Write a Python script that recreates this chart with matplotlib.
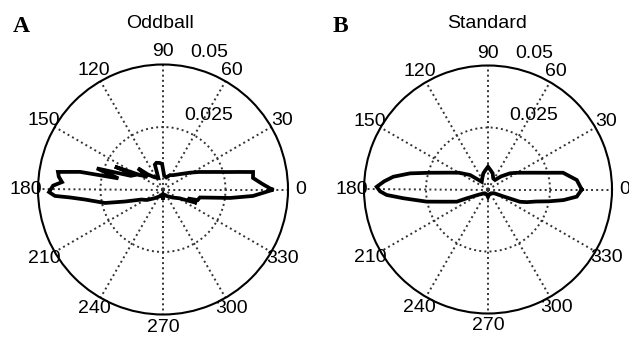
import numpy as np
import matplotlib.pyplot as plt

plt.rcParams['font.family'] = ['Liberation Sans', 'DejaVu Sans']

# phase distributions (angle in degrees, radius)
odd_theta = [0, 3.2, 7.3, 11, 13, 15, 18, 22, 26, 32, 42, 55, 64, 75, 85, 92, 97,
             104, 108, 112, 125, 135, 139.7, 141, 148, 154.6, 152.6, 157, 162.3,
             166, 168, 170.5, 173, 175.8, 178, 181.3, 183.4, 184.9, 187.3, 193.1,
             197.5, 205, 213, 225, 245, 262, 270, 278, 300, 320, 332, 338.3, 340,
             343, 347.8, 352.8, 355.9, 359.7]
odd_r = [0.0436, 0.0398, 0.0363, 0.0367, 0.0312, 0.027, 0.0227, 0.0187, 0.016,
         0.0127, 0.0092, 0.007, 0.0064, 0.005, 0.0055, 0.0102, 0.0107, 0.011,
         0.0105, 0.005, 0.006, 0.0085, 0.0131, 0.008, 0.011, 0.0213, 0.0126,
         0.014, 0.0278, 0.0184, 0.0339, 0.0426, 0.042, 0.0405, 0.044, 0.0456,
         0.0433, 0.0373, 0.0315, 0.0238, 0.016, 0.0095, 0.0077, 0.005, 0.003,
         0.002, 0.004, 0.002, 0.003, 0.005, 0.0075, 0.0146, 0.0105, 0.0145,
         0.0151, 0.027, 0.0361, 0.0436]

std_theta = [0, 6.1, 12.6, 16, 20, 25, 30, 36.4, 45, 53.6, 65, 74, 82, 90, 98, 106,
             118, 129, 141, 150, 156, 160, 164, 168.3, 172.3, 175.5, 178.6, 181,
             183.1, 185.9, 188, 191.2, 195, 201.3, 202.5, 210, 230, 255, 270, 285,
             310, 329, 336, 339, 342, 346, 349, 352, 355.4]
std_r = [0.0378, 0.036, 0.031, 0.0245, 0.0198, 0.016, 0.0135, 0.011, 0.0075,
         0.0048, 0.005, 0.0068, 0.0078, 0.0092, 0.0078, 0.0068, 0.005, 0.004,
         0.0093, 0.0135, 0.0167, 0.0198, 0.0245, 0.0321, 0.0385, 0.042, 0.0449,
         0.0435, 0.0409, 0.0343, 0.030, 0.0252, 0.019, 0.0135, 0.0093, 0.004,
         0.002, 0.002, 0.003, 0.002, 0.002, 0.003, 0.007, 0.0138, 0.0165, 0.020,
         0.025, 0.0307, 0.0359]

angle_ticks = np.arange(0, 360, 30)
rmax = 0.05

fig = plt.figure(figsize=(6.29, 3.37), dpi=100)


def polar_panel(rect, theta, r, title, letter, title_x, letter_x):
    ax = fig.add_axes(rect, projection='polar')
    ax.set_ylim(0, rmax)
    ax.set_xticks(np.deg2rad(angle_ticks))
    ax.set_yticks([0.025])
    ax.set_xticklabels([])
    ax.set_yticklabels([])
    ax.grid(True, linestyle=':', color='0.2', linewidth=1.4)
    ax.spines['polar'].set_linewidth(1.5)
    ax.spines['polar'].set_color('black')
    ax.tick_params(length=0)

    th = np.deg2rad(np.append(theta, theta[0]))
    rr = np.append(r, r[0])
    ax.plot(th, rr, color='black', lw=2.7, solid_joinstyle='miter')

    for a in angle_ticks:
        ax.text(np.deg2rad(a), rmax * 1.1, str(a), ha='center', va='center',
                fontsize=14, clip_on=False)
    ax.text(np.deg2rad(78.4), 0.0541, '0.05', ha='left', va='baseline',
            fontsize=14, clip_on=False)
    ax.text(np.deg2rad(73.2), 0.0292, '0.025', ha='left', va='baseline',
            fontsize=14, clip_on=False)

    fig.text(title_x, 1 - 23 / 337, title, ha='center', va='center', fontsize=14)
    fig.text(letter_x, 1 - 26 / 337, letter, ha='left', va='center', fontsize=17,
             fontweight='bold', family='Liberation Serif')
    return ax


polar_panel([38 / 629, 22.5 / 337, 250 / 629, 250 / 337], odd_theta, odd_r,
            'Oddball', 'A', 160 / 629, 13 / 629)
polar_panel([364 / 629, 23.5 / 337, 248 / 629, 248 / 337], std_theta, std_r,
            'Standard', 'B', 487 / 629, 333 / 629)

fig.savefig('out.png', dpi=100, facecolor='white')
